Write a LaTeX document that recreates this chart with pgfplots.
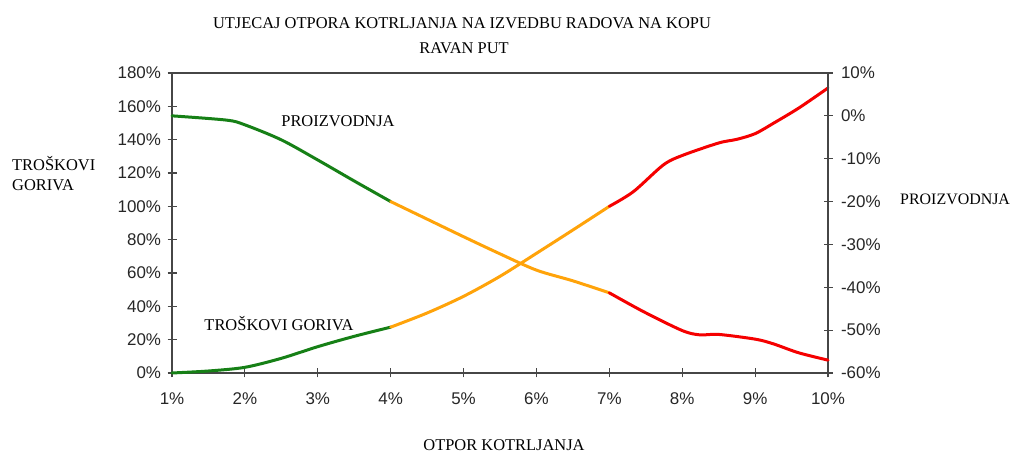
\documentclass[border=0pt]{standalone}
\usepackage{pgfplots}
\pgfplotsset{compat=1.18}
\usepackage{fontspec}
\setmainfont{Liberation Serif}
\newfontfamily\arial{Liberation Sans}
\definecolor{cgreen}{RGB}{22,128,22}
\definecolor{corange}{RGB}{255,163,10}
\definecolor{cred}{RGB}{245,0,0}
\definecolor{axgray}{RGB}{70,70,70}
\begin{document}
\begin{tikzpicture}[x=1bp,y=1bp]
\path[use as bounding box] (0,0) rectangle (1014,455);
\pgfplotsset{
  base/.style={
    at={(172bp,82bp)}, anchor=south west,
    scale only axis, width=656bp, height=300bp,
    xmin=1, xmax=10,
    tick align=center, major tick length=9bp,
    axis line style={axgray, line width=1.3bp},
    tick style={axgray, line width=1.2bp},
    /pgf/number format/assume math mode=true,
    ticklabel style={font=\arial\fontsize{17}{17}\selectfont, text=black!85},
    clip=false,
  },
  curve/.style={line width=3bp, smooth, line cap=round, line join=round},
}
\begin{axis}[base,
  ymin=0, ymax=180,
  xtick={1,...,10}, ytick={0,20,...,180},
  xtick pos=bottom, ytick pos=left,
  xticklabel={\pgfmathprintnumber{\tick}\%},
  yticklabel={\pgfmathprintnumber{\tick}\%},
  xticklabel style={yshift=-12bp},
  yticklabel style={xshift=-3bp},
]
\addplot[curve, cgreen] coordinates {(1,0) (1.5,1.2) (2,3.4) (2.5,8.8) (3,15.8) (3.5,22) (4,27.5)};
\addplot[curve, corange] coordinates {(4,27.5) (4.5,36) (5,46) (5.5,58) (6,71.8) (6.5,85.8) (7,100)};
\addplot[curve, cred] coordinates {(7,100) (7.33,108.8) (7.74,124.8) (8,130.5) (8.5,138) (8.75,140.2) (9,143.6) (9.25,149.8) (9.6,159) (10,171)};
\end{axis}
\begin{axis}[base,
  ymin=-60, ymax=10,
  axis y line*=right, axis x line=none,
  ytick={-60,-50,...,10},
  yticklabel={\pgfmathprintnumber{\tick}\%},
  yticklabel style={xshift=5bp},
]
\addplot[curve, cgreen] coordinates {(1,0) (1.75,-1.0) (2,-2.1) (2.5,-5.6) (3,-10.3) (3.5,-15.2) (4,-20)};
\addplot[curve, corange] coordinates {(4,-20) (4.5,-24.1) (5,-28.2) (5.5,-32.2) (6,-36) (6.5,-38.5) (7,-41.3)};
\addplot[curve, cred] coordinates {(7,-41.3) (7.47,-45.7) (8,-50.1) (8.24,-51.1) (8.5,-51.0) (9,-52.1) (9.25,-53.2) (9.6,-55.3) (10,-57.0)};
\end{axis}
\node[font=\fontsize{16.5}{18}\selectfont] at (462,432) {UTJECAJ OTPORA KOTRLJANJA NA IZVEDBU RADOVA NA KOPU};
\node[font=\fontsize{16.5}{18}\selectfont] at (464,407) {RAVAN PUT};
\node[font=\fontsize{16.5}{20}\selectfont, anchor=west, align=left, inner sep=0pt] at (12,281) {TROŠKOVI\\GORIVA};
\node[font=\fontsize{16}{20}\selectfont, anchor=west, inner sep=0pt] at (900,256) {PROIZVODNJA};
\node[font=\fontsize{16.5}{20}\selectfont] at (338,334) {PROIZVODNJA};
\node[font=\fontsize{16.5}{20}\selectfont] at (279,131) {TROŠKOVI GORIVA};
\node[font=\fontsize{16.5}{20}\selectfont] at (504,10) {OTPOR KOTRLJANJA};
\end{tikzpicture}
\end{document}
